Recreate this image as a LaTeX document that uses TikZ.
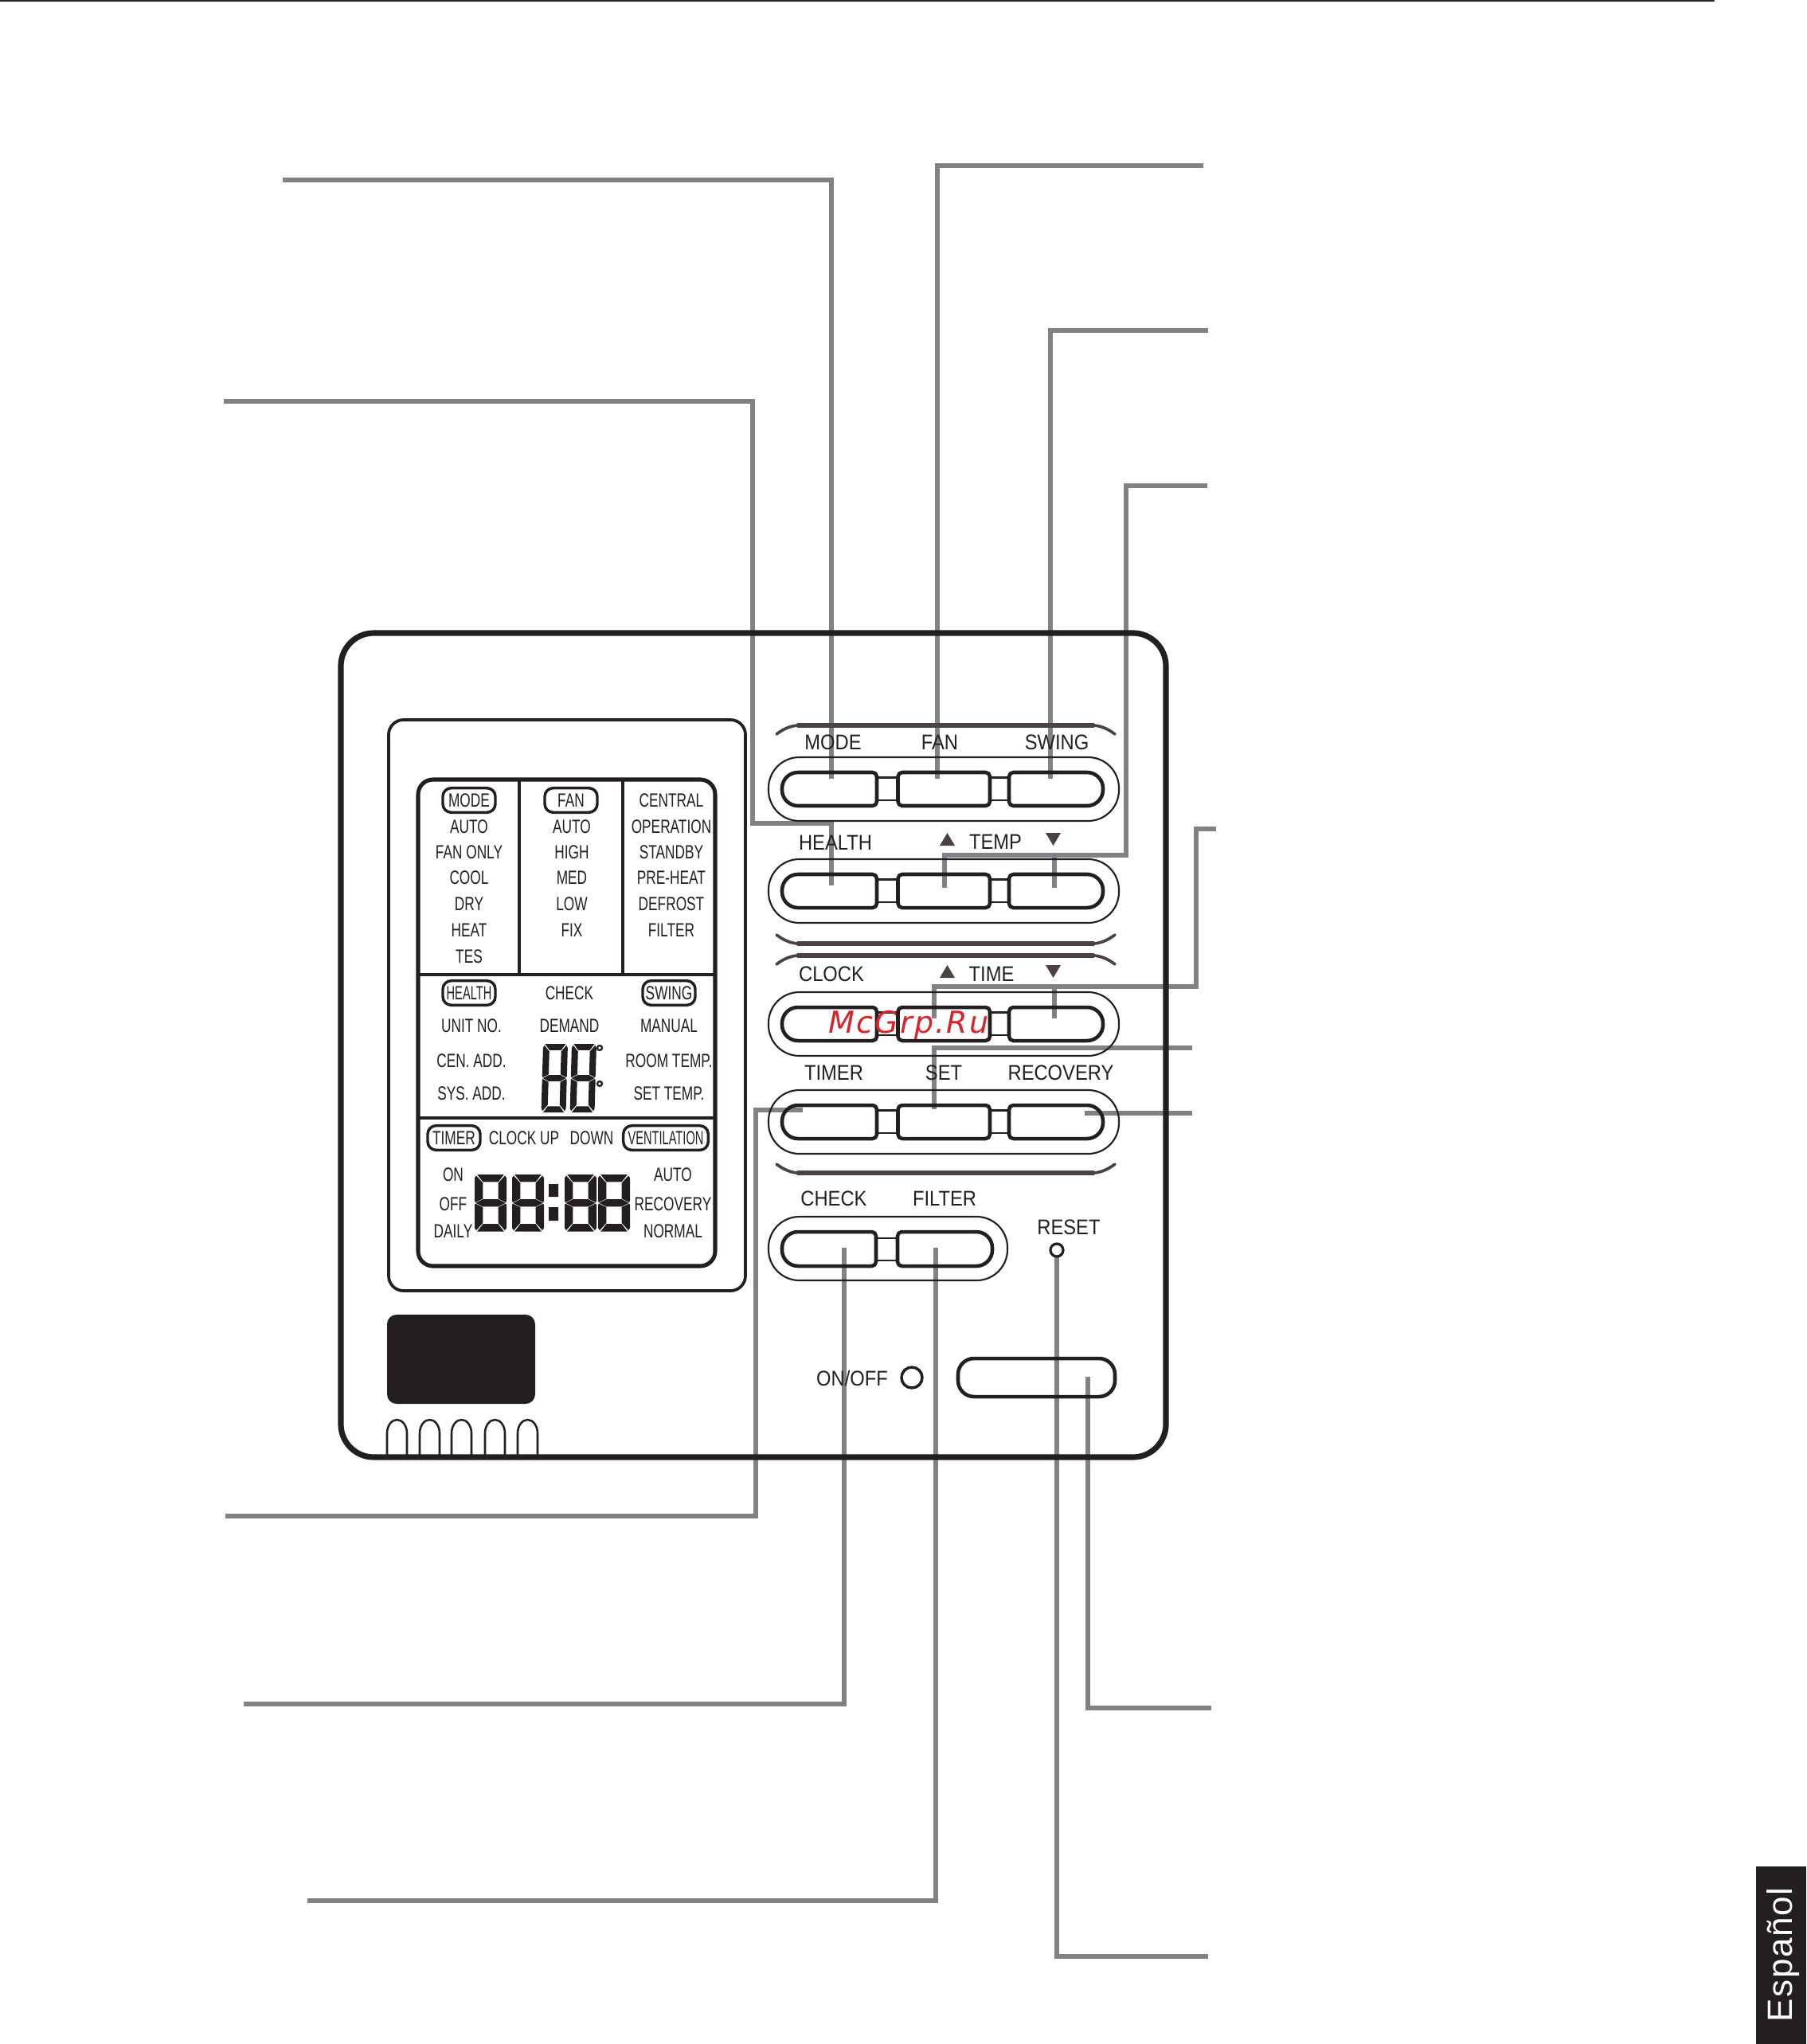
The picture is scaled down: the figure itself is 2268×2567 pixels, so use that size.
\documentclass[tikz,border=0pt]{standalone}
\usepackage{fontspec}
\setmainfont{Liberation Sans}
\newfontfamily\lcdfont[FakeStretch=0.72]{Liberation Sans}
\newfontfamily\tightfont[FakeStretch=0.61]{Liberation Sans}
\newfontfamily\keyfont[FakeStretch=0.89]{Liberation Sans}
\newfontfamily\markfont[LetterSpace=6]{DejaVu Sans}
\definecolor{ink}{HTML}{231F20}
\definecolor{leadgrey}{HTML}{808285}
\definecolor{trimbrown}{HTML}{4D4242}
\definecolor{markred}{HTML}{D9232A}
\tikzset{
  leader/.style={draw=leadgrey,line width=4pt,line cap=butt,line join=miter},
  lcdtext/.style={font=\lcdfont\fontsize{18}{18}\selectfont,text=ink,inner sep=0pt},
  keytext/.style={font=\keyfont\fontsize{20}{20}\selectfont,text=ink,inner sep=0pt},
  lcdpill/.style={lcdtext,draw=ink,line width=2.6pt,rounded corners=8pt,minimum height=23pt},
  tightpill/.style={lcdpill,font=\tightfont\fontsize{18}{18}\selectfont},
  keyface/.style={draw=ink,line width=3.4pt,line join=round},
  keylink/.style={draw=ink,line width=1.8pt},
  keyring/.style={draw=ink,line width=1.6pt},
  trim/.style={draw=trimbrown,line width=4pt},
  trimend/.style={draw=trimbrown,line width=2.8pt},
  pics/digit/.style={code={
    \fill[ink] (8,0) -- (92,0) -- (74,#1) -- (26,#1) -- cycle;
    \fill[ink] (8,100) -- (92,100) -- (74,100-#1) -- (26,100-#1) -- cycle;
    \fill[ink] (3,50) -- (26,50-#1/2) -- (74,50-#1/2) -- (97,50) -- (74,50+#1/2) -- (26,50+#1/2) -- cycle;
    \fill[ink] (5,2) -- (26,#1+2) -- (26,49-#1/2) -- (2,49) -- (0,46) -- (0,6) -- cycle;
    \fill[ink] (95,2) -- (74,#1+2) -- (74,49-#1/2) -- (98,49) -- (100,46) -- (100,6) -- cycle;
    \fill[ink] (5,98) -- (26,98-#1) -- (26,51+#1/2) -- (2,51) -- (0,54) -- (0,94) -- cycle;
    \fill[ink] (95,98) -- (74,98-#1) -- (74,51+#1/2) -- (98,51) -- (100,54) -- (100,94) -- cycle;
  }},
  pics/keyrow/.style={code={
    \draw[keyring,rounded corners=29pt] (0,0) rectangle (440,80);
    \draw[keylink] (136,25.5) -- (162.5,25.5) (136,54) -- (162.5,54);
    \draw[keylink] (278,25.5) -- (302,25.5) (278,54) -- (302,54);
    \draw[keyface] [rounded corners=4pt] (70,19) -- (136,19) -- (136,61) -- (70,61) [rounded corners=15pt] -- (17,61) -- (17,19) -- cycle;
    \draw[keyface,rounded corners=4pt] (162.5,19) rectangle (278,61);
    \draw[keyface] [rounded corners=4pt] (360,61) -- (302,61) -- (302,19) -- (360,19) [rounded corners=15pt] -- (420,19) -- (420,61) -- cycle;
  }}
}

\begin{document}
\begin{tikzpicture}[x=0.75pt,y=-0.75pt,line cap=round]
      \useasboundingbox (0,0) rectangle (2268,2567);

      % Top rule
      \draw[ink,line width=1.5pt] (0,1) -- (2152,1);

      % Add Leaders
      \coordinate (modeFree) at (355,226);
      \coordinate (modeKey) at (1044,978);
      \coordinate (healthFree) at (281,504);
      \coordinate (healthKnee) at (945,1034);
      \coordinate (healthKey) at (1044,1112);
      \coordinate (fanFree) at (1511,208);
      \coordinate (fanKey) at (1177,978);
      \coordinate (swingFree) at (1517,415);
      \coordinate (swingKey) at (1319,978);
      \coordinate (tempFree) at (1516,610);
      \coordinate (tempKnee) at (1414,1074);
      \coordinate (tempUpKey) at (1186,1115);
      \coordinate (tempDownKey) at (1324,1115);
      \coordinate (timeFree) at (1527,1041);
      \coordinate (timeKnee) at (1502,1239);
      \coordinate (timeUpKey) at (1173,1279);
      \coordinate (timeDownKey) at (1324,1279);
      \coordinate (setFree) at (1497,1316);
      \coordinate (setKey) at (1173,1393);
      \coordinate (recoveryFree) at (1497,1398);
      \coordinate (recoveryKey) at (1362,1398);
      \coordinate (timerFree) at (283,1904);
      \coordinate (timerKnee) at (949,1394);
      \coordinate (timerKey) at (1008,1394);
      \coordinate (checkFree) at (306,2140);
      \coordinate (checkKey) at (1060,1567);
      \coordinate (filterFree) at (386,2387);
      \coordinate (filterKey) at (1175,1567);
      \coordinate (resetFree) at (1517,2457);
      \coordinate (resetHole) at (1327,1578);
      \coordinate (onoffFree) at (1521,2145);
      \coordinate (onoffKey) at (1366,1729);

      \draw[leader] (modeFree) -| (modeKey);
      \draw[leader] (healthFree) -| (healthKnee) -| (healthKey);
      \draw[leader] (fanFree) -| (fanKey);
      \draw[leader] (swingFree) -| (swingKey);
      \draw[leader] (tempFree) -| (tempKnee) -| (tempUpKey);
      \draw[leader] (tempKnee) -| (tempDownKey);
      \draw[leader] (timeFree) -| (timeKnee) -| (timeUpKey);
      \draw[leader] (timeKnee) -| (timeDownKey);
      \draw[leader] (setFree) -| (setKey);
      \draw[leader] (recoveryFree) -- (recoveryKey);
      \draw[leader] (timerFree) -| (timerKnee) -- (timerKey);
      \draw[leader] (checkFree) -| (checkKey);
      \draw[leader] (filterFree) -| (filterKey);
      \draw[leader] (resetFree) -| (resetHole);
      \draw[leader] (onoffFree) -| (onoffKey);

      % Body and display
      \draw[ink,line width=5.4pt,rounded corners=31pt] (428,795) rectangle (1464,1830);
      \draw[ink,line width=2.8pt,rounded corners=14pt] (488,904) rectangle (936,1621);
      \draw[ink,line width=3.8pt,rounded corners=14pt] (525,979) rectangle (898,1590);
      \draw[ink,line width=3pt] (652,979) -- (652,1224);
      \draw[ink,line width=3.2pt] (782,979) -- (782,1224);
      \draw[ink,line width=3pt] (525,1224) -- (898,1224);
      \draw[ink,line width=3pt] (525,1404) -- (898,1404);

      % Display texts
      \node[lcdpill,minimum width=49.5pt] (modeTag) at (589,1005) {MODE};
      \node[lcdpill,minimum width=49.5pt] (fanTag) at (717,1005) {FAN};
      \foreach \txt/\yy [count=\i] in {AUTO/1038,FAN ONLY/1070,COOL/1102,DRY/1135,HEAT/1168,TES/1201}
        \node[lcdtext] (modeItem\i) at (589,\yy) {\txt};
      \foreach \txt/\yy [count=\i] in {AUTO/1038,HIGH/1070,MED/1102,LOW/1135,FIX/1168}
        \node[lcdtext] (fanItem\i) at (718,\yy) {\txt};
      \foreach \txt/\yy [count=\i] in {CENTRAL/1005,OPERATION/1038,STANDBY/1070,PRE-HEAT/1102,DEFROST/1135,FILTER/1168}
        \node[lcdtext] (stateItem\i) at (843,\yy) {\txt};
      \node[tightpill,minimum width=49.5pt] (healthTag) at (589,1247) {HEALTH};
      \node[lcdtext] (checkItem) at (715,1247) {CHECK};
      \node[lcdpill,minimum width=49.5pt] (swingTag) at (840,1247) {SWING};
      \foreach \txt/\yy [count=\i] in {UNIT NO./1288,CEN. ADD./1332,SYS. ADD./1373}
        \node[lcdtext] (addrItem\i) at (592,\yy) {\txt};
      \node[lcdtext] (demandItem) at (715,1288) {DEMAND};
      \foreach \txt/\yy [count=\i] in {MANUAL/1288,ROOM TEMP./1332,SET TEMP./1373}
        \node[lcdtext] (tempItem\i) at (840,\yy) {\txt};
      \node[lcdpill,minimum width=49.5pt] (timerTag) at (570,1429) {TIMER};
      \node[lcdtext] (clockItem) at (658,1429) {CLOCK UP};
      \node[lcdtext] (downItem) at (743,1429) {DOWN};
      \node[tightpill,minimum width=80pt] (ventTag) at (836,1429) {VENTILATION};
      \foreach \txt/\yy [count=\i] in {ON/1475,OFF/1512,DAILY/1546}
        \node[lcdtext] (timerItem\i) at (569,\yy) {\txt};
      \foreach \txt/\yy [count=\i] in {AUTO/1475,RECOVERY/1512,NORMAL/1546}
        \node[lcdtext] (ventItem\i) at (845,\yy) {\txt};

      % Digits
      \foreach \xx in {682,718}
        \pic[xscale=.31,yscale=.86,xslant=.08] at (\xx,1311) {digit=9};
      \draw[ink,line width=1.7pt] (753,1316) circle (3) (753,1361) circle (3);
      \foreach \xx in {596,643,709,751}
        \pic[xscale=.40,yscale=.715] at (\xx,1475) {digit=13};
      \fill[ink] (689,1487) rectangle (701,1503) (689,1516) rectangle (701,1533);

      % Add Keys
      \foreach \yy in {951,1079,1246,1369}
        \pic at (965,\yy) {keyrow};
      \draw[keyring,rounded corners=29pt] (965,1528) rectangle (1265,1608);
      \draw[keylink] (1100,1555) -- (1127,1555) (1100,1583) -- (1127,1583);
      \draw[keyface] [rounded corners=4pt] (1040,1547) -- (1100,1547) -- (1100,1590) -- (1040,1590) [rounded corners=15pt] -- (982,1590) -- (982,1547) -- cycle;
      \draw[keyface] [rounded corners=4pt] (1190,1590) -- (1127,1590) -- (1127,1547) -- (1190,1547) [rounded corners=15pt] -- (1246,1547) -- (1246,1590) -- cycle;
      \draw[keyface,rounded corners=15pt] (1203,1706) rectangle (1400,1754);

      % Trim
      \foreach \yy in {911,1200}{
        \draw[trim,line cap=butt] (1001,\yy) -- (1374,\yy);
        \draw[trimend] (975,\yy+11) .. controls (983,\yy+5) and (991,\yy+1) .. (1001,\yy);
        \draw[trimend] (1400,\yy+11) .. controls (1392,\yy+5) and (1384,\yy+1) .. (1374,\yy);
      }
      \foreach \yy in {1185,1473}{
        \draw[trim,line cap=butt] (1001,\yy) -- (1374,\yy);
        \draw[trimend] (975,\yy-11) .. controls (983,\yy-5) and (991,\yy-1) .. (1001,\yy);
        \draw[trimend] (1400,\yy-11) .. controls (1392,\yy-5) and (1384,\yy-1) .. (1374,\yy);
      }

      % Key labels
      \node[keytext] (modeLabel) at (1046,932.5) {MODE};
      \node[keytext] (fanLabel) at (1180,932.5) {FAN};
      \node[keytext] (swingLabel) at (1327,932.5) {SWING};
      \node[keytext] (healthLabel) at (1049,1058.5) {HEALTH};
      \node[keytext] (tempLabel) at (1250,1057.5) {TEMP};
      \node[keytext] (clockLabel) at (1044,1223.5) {CLOCK};
      \node[keytext] (timeLabel) at (1245,1223.5) {TIME};
      \node[keytext] (timerLabel) at (1047,1347.5) {TIMER};
      \node[keytext] (setLabel) at (1185,1347.5) {SET};
      \node[keytext] (recoveryLabel) at (1332,1347.5) {RECOVERY};
      \node[keytext] (checkLabel) at (1047,1505) {CHECK};
      \node[keytext] (filterLabel) at (1186,1505) {FILTER};
      \node[keytext] (resetLabel) at (1342,1541) {RESET};
      \node[keytext] (onoffLabel) at (1070,1731) {ON/OFF};

      % Arrows beside the labels
      \foreach \yy in {1046,1212}{
        \fill[trimbrown] (1180,\yy+16) -- (1199,\yy+16) -- (1189.5,\yy) -- cycle;
        \fill[trimbrown] (1313,\yy) -- (1332,\yy) -- (1322.5,\yy+16) -- cycle;
      }

      % Lamps
      \draw[ink,line width=2.4pt] (1327,1570) circle (8);
      \draw[ink,line width=2.6pt] (1145,1730) circle (13);

      % Receiver and slots
      \fill[ink,rounded corners=9pt] (486,1651) rectangle (672,1763);
      \foreach \xx in {486,527,567,609,650}
        \draw[ink,line width=1.9pt] (\xx,1829) -- (\xx,1800) arc[start angle=180,end angle=0,x radius=12.5,y radius=-17] -- (\xx+25,1829);

      % Side tab
      \fill[ink] (2205,2344) rectangle (2268,2567);
      \node[font=\fontsize{33}{33}\selectfont\addfontfeature{LetterSpace=4},text=white,rotate=90,anchor=base,inner sep=0pt] (tabLabel) at (2250,2455) {Español};

      % Overprint
      \node[font=\markfont\itshape\fontsize{28.5}{29}\selectfont,text=markred,anchor=base west,inner sep=0pt] (overprint) at (1040,1297) {McGrp.Ru};
    \end{tikzpicture}
\end{document}
